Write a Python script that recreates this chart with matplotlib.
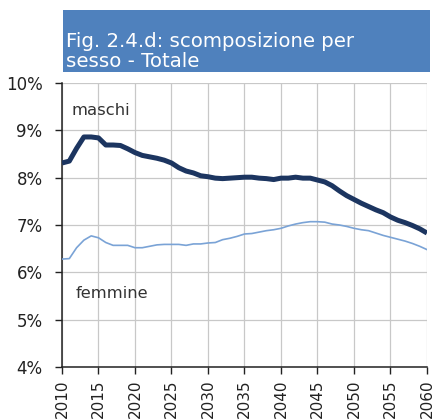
import matplotlib
matplotlib.use("Agg")
import matplotlib.pyplot as plt
from matplotlib.patches import Rectangle
from matplotlib.ticker import FuncFormatter

years = list(range(2010, 2061))
maschi = [8.31, 8.35, 8.62, 8.86, 8.86, 8.84, 8.69, 8.69, 8.68, 8.61,
          8.53, 8.47, 8.44, 8.41, 8.37, 8.31, 8.21, 8.14, 8.10, 8.04,
          8.02, 7.99, 7.98, 7.99, 8.00, 8.01, 8.01, 7.99, 7.98, 7.96,
          7.99, 7.99, 8.01, 7.99, 7.99, 7.95, 7.91, 7.83, 7.72, 7.62,
          7.54, 7.46, 7.39, 7.32, 7.26, 7.17, 7.10, 7.05, 6.99, 6.92,
          6.83]
femmine = [6.28, 6.29, 6.52, 6.68, 6.77, 6.73, 6.63, 6.57, 6.57, 6.57,
           6.52, 6.52, 6.55, 6.58, 6.59, 6.59, 6.59, 6.57, 6.60, 6.60,
           6.62, 6.63, 6.69, 6.72, 6.76, 6.81, 6.82, 6.85, 6.88, 6.90,
           6.93, 6.98, 7.02, 7.05, 7.07, 7.07, 7.06, 7.02, 7.00, 6.97,
           6.93, 6.90, 6.88, 6.83, 6.78, 6.74, 6.70, 6.66, 6.61, 6.55,
           6.48]
xticks = list(range(2010, 2061, 5))
yticks = [4, 5, 6, 7, 8, 9, 10]
title_lines = ["Fig. 2.4.d: scomposizione per", "sesso - Totale"]

plt.rcParams['font.family'] = ['DejaVu Sans']
fig = plt.figure(figsize=(4.34, 4.20), dpi=100)
ax = fig.add_axes([62/434, 1-367/420, 365/434, 284/420])

ax.plot(years, femmine, color='#7aa3d6', lw=1.2, zorder=3)
ax.plot(years, maschi, color='#1c3560', lw=3.6, solid_capstyle='butt', zorder=4)

ax.set_xlim(2010, 2060)
ax.set_ylim(4, 10)
ax.set_xticks(xticks)
ax.set_yticks(yticks)
ax.yaxis.set_major_formatter(FuncFormatter(lambda v, p: f"{int(v)}%"))
ax.tick_params(axis='y', direction='out', length=5, width=1, labelsize=12, pad=9, colors='#222222')
ax.tick_params(axis='x', direction='out', length=5, width=1, labelsize=11, pad=4, labelrotation=90, colors='#222222')
ax.grid(True, color='#c8c8c8', lw=0.9)
ax.set_axisbelow(True)
for s in ['top', 'right']:
    ax.spines[s].set_visible(False)
for s in ['left', 'bottom']:
    ax.spines[s].set_color('#222222')
    ax.spines[s].set_linewidth(1.1)

ax.text(2011.3, 9.41, "maschi", fontsize=11.8, color='#333333', va='center', ha='left')
ax.text(2011.8, 5.56, "femmine", fontsize=11.8, color='#333333', va='center', ha='left')

fig.patches.append(Rectangle((63/434, 1-72/420), 367/434, 62/420,
                             transform=fig.transFigure, facecolor='#4f81bd',
                             edgecolor='none', zorder=0))
fig.text(66/434, 1-47/420, title_lines[0], color='white', fontsize=14.2, va='baseline', ha='left')
fig.text(66/434, 1-67/420, title_lines[1], color='white', fontsize=14.2, va='baseline', ha='left')

fig.savefig("out.png", dpi=100)
